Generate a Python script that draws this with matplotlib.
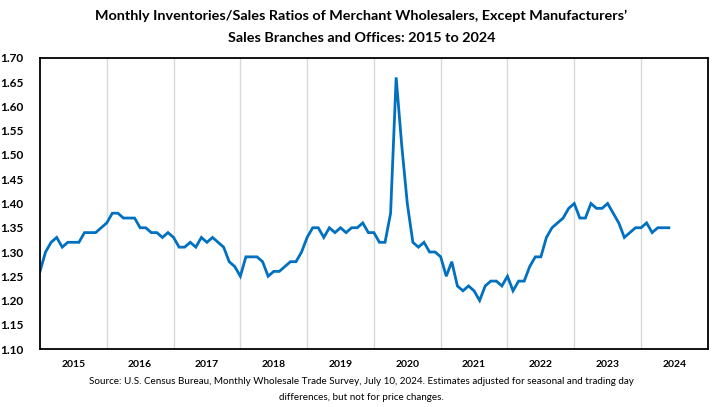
"""Monthly inventories/sales ratios of merchant wholesalers, 2015 to 2024."""

import matplotlib
matplotlib.use('Agg')
import matplotlib.pyplot as plt
import numpy as np

# Monthly I/S ratios, Dec 2014 through May 2024
ratios = [
    1.26, 1.30, 1.32, 1.33, 1.31, 1.32, 1.32, 1.32, 1.34, 1.34, 1.34, 1.35,
    1.36, 1.38, 1.38, 1.37, 1.37, 1.37, 1.35, 1.35, 1.34, 1.34, 1.33, 1.34,
    1.33, 1.31, 1.31, 1.32, 1.31, 1.33, 1.32, 1.33, 1.32, 1.31, 1.28, 1.27,
    1.25, 1.29, 1.29, 1.29, 1.28, 1.25, 1.26, 1.26, 1.27, 1.28, 1.28, 1.30,
    1.33, 1.35, 1.35, 1.33, 1.35, 1.34, 1.35, 1.34, 1.35, 1.35, 1.36, 1.34,
    1.34, 1.32, 1.32, 1.38, 1.66, 1.52, 1.40, 1.32, 1.31, 1.32, 1.30, 1.30,
    1.29, 1.25, 1.28, 1.23, 1.22, 1.23, 1.22, 1.20, 1.23, 1.24, 1.24, 1.23,
    1.25, 1.22, 1.24, 1.24, 1.27, 1.29, 1.29, 1.33, 1.35, 1.36, 1.37, 1.39,
    1.40, 1.37, 1.37, 1.40, 1.39, 1.39, 1.40, 1.38, 1.36, 1.33, 1.34, 1.35,
    1.35, 1.36, 1.34, 1.35, 1.35, 1.35,
]
year_labels = ['2015', '2016', '2017', '2018', '2019',
               '2020', '2021', '2022', '2023', '2024']
y_ticks = [1.10, 1.15, 1.20, 1.25, 1.30, 1.35, 1.40,
           1.45, 1.50, 1.55, 1.60, 1.65, 1.70]

title = ('Monthly Inventories/Sales Ratios of Merchant Wholesalers, Except Manufacturers\u2019\n'
         'Sales Branches and Offices: 2015 to 2024')
source = ('Source: U.S. Census Bureau, Monthly Wholesale Trade Survey, July 10, 2024. '
          'Estimates adjusted for seasonal and trading day\n'
          'differences, but not for price changes.')

plt.rcParams['font.family'] = ['Lato', 'DejaVu Sans']

fig = plt.figure(figsize=(7.23, 4.07), dpi=100)
ax = fig.add_axes([0.0553, 0.1425, 0.9237, 0.715])

months = np.arange(len(ratios))
ax.plot(months, ratios, color='#0070C0', linewidth=2.0, solid_joinstyle='miter')

n_years = len(year_labels)
ax.set_xlim(0, 12 * n_years)
ax.set_ylim(1.10, 1.70)

# year boundaries as light vertical lines, year names centred between them
for k in range(1, n_years):
    ax.axvline(12 * k, color='#d9d9d9', linewidth=1.0, zorder=0)
ax.set_xticks([12 * k + 6 for k in range(n_years)])
ax.set_xticklabels(year_labels, fontsize=7.5, fontweight='bold')
ax.set_yticks(y_ticks)
ax.set_yticklabels([f'{v:.2f}' for v in y_ticks], fontsize=8.5, fontweight='bold')
ax.tick_params(axis='both', length=0)
ax.tick_params(axis='x', pad=8)
ax.tick_params(axis='y', pad=12)

for spine in ax.spines.values():
    spine.set_color('black')
    spine.set_linewidth(1.3)

fig.text(0.5, 0.977, title, ha='center', va='top', fontsize=10.4,
         fontweight='bold', linespacing=2.0)
fig.text(0.5, 0.074, source, ha='center', va='top', fontsize=7.1,
         linespacing=2.05)

fig.savefig('out.png', dpi=100)
plt.close(fig)
